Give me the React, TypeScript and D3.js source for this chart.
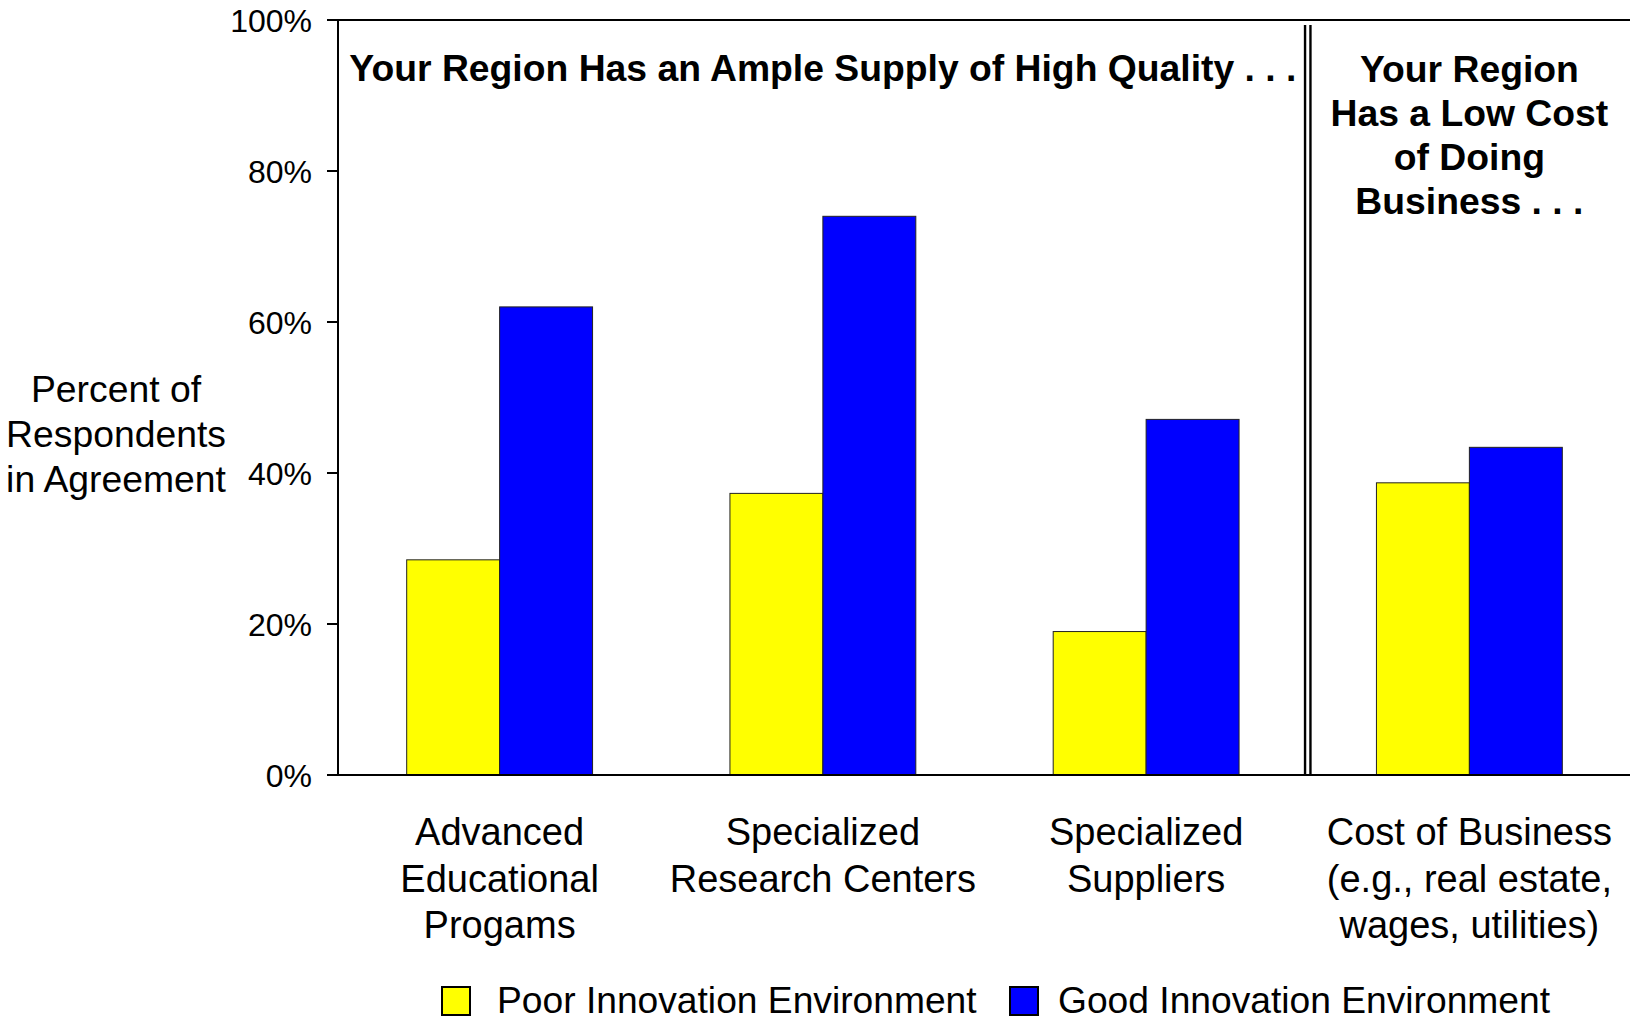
import React from "react";
import * as d3 from "d3";

const categories = ["adv", "res", "sup", "cost"];
const categoryLabels: string[][] = [
  ["Advanced", "Educational", "Progams"],
  ["Specialized", "Research Centers"],
  ["Specialized", "Suppliers"],
  ["Cost of Business", "(e.g., real estate,", "wages, utilities)"],
];
const seriesNames = ["Poor Innovation Environment", "Good Innovation Environment"];
const seriesColors = ["#FFFF00", "#0000FF"];
const poorValues = [28.5, 37.3, 19.0, 38.7];
const goodValues = [62.0, 74.0, 47.1, 43.4];
const yTicks = [0, 20, 40, 60, 80, 100];
const yTitle = ["Percent of", "Respondents", "in Agreement"];
const leftHeader = "Your Region Has an Ample Supply of High Quality . . .";
const rightHeader = ["Your Region", "Has a Low Cost", "of Doing", "Business . . ."];

const W = 1630;
const H = 1018;
const FONT = "'Liberation Sans', Arial, Helvetica, sans-serif";

export default function App() {
  const x0 = 338;
  const x1 = 1631;
  const yTop = 20;
  const yBase = 775;
  const padInner = 0.425;

  const x = d3
    .scaleBand<string>()
    .domain(categories)
    .range([x0, x1])
    .paddingInner(padInner)
    .paddingOuter(padInner / 2);
  const xs = d3
    .scaleBand<string>()
    .domain(seriesNames)
    .range([0, x.bandwidth()]);
  const y = d3.scaleLinear().domain([0, 100]).range([yBase, yTop]);

  const series = [poorValues, goodValues];
  const step = x.step();
  const divX = (x(categories[3]) as number) - (step * padInner) / 2;
  const leftCenter = (x0 + divX) / 2;
  const rightCenter = (x(categories[3]) as number) + x.bandwidth() / 2;

  const legendBoxX = [442, 1010];
  const legendTextX = [497, 1058];

  return (
    <svg
      width={W}
      height={H}
      style={{ position: "absolute", left: 0, top: 0, background: "#fff" }}
      fontFamily={FONT}
    >
      <rect x={0} y={0} width={W} height={H} fill="#fff" />
      {/* bars */}
      {categories.map((c, ci) =>
        series.map((vals, si) => (
          <rect
            key={c + si}
            x={(x(c) as number) + (xs(seriesNames[si]) as number)}
            y={y(vals[ci])}
            width={xs.bandwidth()}
            height={yBase - y(vals[ci])}
            fill={seriesColors[si]}
            stroke="#222"
            strokeWidth={1}
          />
        ))
      )}
      {/* axis */}
      <line x1={x0} x2={x0} y1={yTop} y2={yBase} stroke="#000" strokeWidth={2} />
      <line x1={x0 - 11} x2={W} y1={yTop} y2={yTop} stroke="#000" strokeWidth={2} />
      <line x1={x0 - 11} x2={W} y1={yBase} y2={yBase} stroke="#000" strokeWidth={2} />
      {yTicks.map((t) => (
        <g key={t}>
          <line x1={x0 - 11} x2={x0} y1={y(t)} y2={y(t)} stroke="#000" strokeWidth={2} />
          <text x={312} y={y(t)} dy="0.36em" textAnchor="end" fontSize={32} fill="#000">
            {t}%
          </text>
        </g>
      ))}
      {/* divider */}
      <line x1={divX - 2.7} x2={divX - 2.7} y1={25} y2={yBase} stroke="#000" strokeWidth={2.4} />
      <line x1={divX + 2.7} x2={divX + 2.7} y1={25} y2={yBase} stroke="#000" strokeWidth={2.4} />
      {/* y title */}
      {yTitle.map((l, i) => (
        <text key={l} x={116} y={402 + i * 45} textAnchor="middle" fontSize={37.3} fill="#000">
          {l}
        </text>
      ))}
      {/* headers */}
      <text x={leftCenter} y={81} textAnchor="middle" fontSize={37.3} fontWeight="bold" fill="#000">
        {leftHeader}
      </text>
      {rightHeader.map((l, i) => (
        <text key={l} x={rightCenter} y={82 + i * 44} textAnchor="middle" fontSize={37.3} fontWeight="bold" fill="#000">
          {l}
        </text>
      ))}
      {/* category labels */}
      {categories.map((c, ci) =>
        categoryLabels[ci].map((l, li) => (
          <text
            key={c + li}
            x={(x(c) as number) + x.bandwidth() / 2}
            y={845 + li * 46.5}
            textAnchor="middle"
            fontSize={38}
            fill="#000"
          >
            {l}
          </text>
        ))
      )}
      {/* legend */}
      {seriesNames.map((s, i) => (
        <g key={s}>
          <rect x={legendBoxX[i]} y={987} width={28} height={28} fill={seriesColors[i]} stroke="#000" strokeWidth={2} />
          <text x={legendTextX[i]} y={1013} fontSize={37.2} fill="#000">
            {s}
          </text>
        </g>
      ))}
    </svg>
  );
}
